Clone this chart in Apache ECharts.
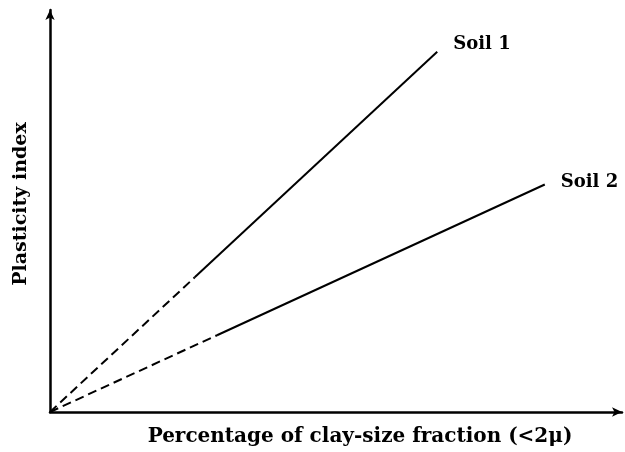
<!DOCTYPE html>
<html>
<head>
<meta charset="utf-8">
<script src="https://cdn.jsdelivr.net/npm/echarts@6/dist/echarts.min.js"></script>
<style>
  html, body { margin: 0; padding: 0; background: #fff; }
  #main { width: 625px; height: 452px; }
</style>
</head>
<body>
<div id="main"></div>
<script>
// 数据：虚线段（外推到原点）和实线段
var soil1Dashed = [[0, 0], [25.3, 33.5]];
var soil1Solid = [[25.3, 33.5], [67.7, 89.6]];
var soil2Dashed = [[0, 0], [29.2, 19.1]];
var soil2Solid = [[29.2, 19.1], [86.5, 56.6]];
var seriesNames = ['Soil 1', 'Soil 2'];

var font = 'DejaVu Serif';

function lineSeries(data, type, name, dy) {
  return {
    type: 'line',
    data: data,
    symbol: 'none',
    silent: true,
    lineStyle: { color: '#000', width: 2, type: type === 'dashed' ? [9, 5] : 'solid' },
    endLabel: name ? {
      show: true,
      formatter: name,
      color: '#000',
      fontFamily: font,
      fontWeight: 'bold',
      fontSize: 18,
      distance: 16,
      offset: [0, dy]
    } : { show: false }
  };
}

var myChart = echarts.init(document.getElementById('main'));
myChart.setOption({
  backgroundColor: '#fff',
  animation: false,
  grid: { left: 50, right: 3, top: 10, bottom: 39 },
  xAxis: {
    type: 'value',
    min: 0,
    max: 100,
    name: 'Percentage of clay-size fraction (<2\u03bc)',
    nameLocation: 'middle',
    nameGap: 15,
    nameTextStyle: { color: '#000', fontFamily: font, fontWeight: 'bold', fontSize: 20, padding: [0, 0, 0, 48] },
    axisLine: { show: true, lineStyle: { color: '#000', width: 2.5 }, symbol: ['none', 'arrow'], symbolSize: [7, 10] },
    axisTick: { show: false },
    axisLabel: { show: false },
    splitLine: { show: false }
  },
  yAxis: {
    type: 'value',
    min: 0,
    max: 100,
    name: 'Plasticity index',
    nameLocation: 'middle',
    nameGap: 19,
    nameTextStyle: { color: '#000', fontFamily: font, fontWeight: 'bold', fontSize: 19, padding: [0, 0, 0, 14] },
    axisLine: { show: true, lineStyle: { color: '#000', width: 2.5 }, symbol: ['none', 'arrow'], symbolSize: [7, 10] },
    axisTick: { show: false },
    axisLabel: { show: false },
    splitLine: { show: false }
  },
  series: [
    lineSeries(soil1Dashed, 'dashed'),
    lineSeries(soil1Solid, 'solid', seriesNames[0], -7),
    lineSeries(soil2Dashed, 'dashed'),
    lineSeries(soil2Solid, 'solid', seriesNames[1], -2)
  ]
});
</script>
</body>
</html>
